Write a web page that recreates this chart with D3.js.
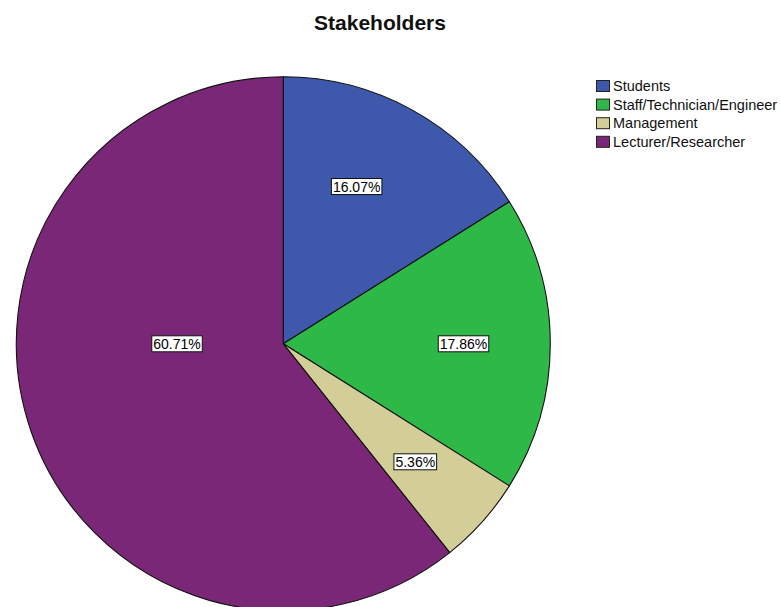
<!DOCTYPE html>
<html>
<head>
<meta charset="utf-8">
<script src="https://cdn.jsdelivr.net/npm/d3@7"></script>
<style>
  html, body { margin: 0; padding: 0; background: #fff; }
  svg { display: block; font-family: "Liberation Sans", Arial, sans-serif; }
</style>
</head>
<body>
<svg id="chart" width="781" height="607"></svg>
<script>
// Stakeholder groups and their share of respondents (percent)
const categories = ["Students", "Staff/Technician/Engineer", "Management", "Lecturer/Researcher"];
const shares = [16.07, 17.86, 5.36, 60.71];
const sliceColors = ["#3e58ac", "#2eb848", "#d3ce97", "#7b2777"];
const title = "Stakeholders";

const W = 781, H = 607;
const cx = 283.3, cy = 343.8, R = 267;

// label anchor in polar form: [angle in degrees from 12 o'clock, fraction of radius]
const labelPlacement = [[25, 0.65], [90, 0.675], [131.8, 0.663], [270, 0.398]];

const svg = d3.select("#chart");

svg.append("text")
  .attr("x", 380).attr("y", 30)
  .attr("text-anchor", "middle")
  .attr("font-size", 21).attr("font-weight", "bold")
  .attr("fill", "#111")
  .text(title);

const data = categories.map((c, i) => ({ name: c, value: shares[i], color: sliceColors[i], lp: labelPlacement[i] }));

const pie = d3.pie().value(d => d.value).sort(null);
const arc = d3.arc().innerRadius(0).outerRadius(R);

const g = svg.append("g").attr("transform", `translate(${cx},${cy})`);

g.selectAll("path.slice")
  .data(pie(data))
  .join("path")
  .attr("class", "slice")
  .attr("d", arc)
  .attr("fill", d => d.data.color)
  .attr("stroke", "#111")
  .attr("stroke-width", 1.1)
  .attr("stroke-linejoin", "round");

const fmt = v => v.toFixed(2) + "%";

const labels = g.selectAll("g.lbl")
  .data(pie(data))
  .join("g")
  .attr("class", "lbl")
  .attr("transform", d => {
    const [a, f] = d.data.lp;
    const p = d3.pointRadial(a * Math.PI / 180, f * R);
    return `translate(${p[0]},${p[1]})`;
  });

labels.each(function(d) {
  const sel = d3.select(this);
  const t = sel.append("text")
    .attr("text-anchor", "middle")
    .attr("dy", "0.36em")
    .attr("font-size", 14)
    .attr("fill", "#000")
    .text(fmt(d.data.value));
  const bb = t.node().getBBox();
  sel.insert("rect", "text")
    .attr("x", -bb.width / 2 - 1.5)
    .attr("y", -8)
    .attr("width", bb.width + 3)
    .attr("height", 16)
    .attr("fill", "#fff")
    .attr("stroke", "#111")
    .attr("stroke-width", 1);
});

// legend
const legend = svg.append("g").attr("transform", "translate(596,80)");
const rows = legend.selectAll("g.row")
  .data(data)
  .join("g")
  .attr("class", "row")
  .attr("transform", (d, i) => `translate(0,${i * 18.6})`);

rows.append("rect")
  .attr("x", 0.5).attr("y", 0.5)
  .attr("width", 13).attr("height", 11)
  .attr("fill", d => d.color)
  .attr("stroke", "#222")
  .attr("stroke-width", 1);

rows.append("text")
  .attr("x", 17).attr("y", 6)
  .attr("dy", "0.36em")
  .attr("font-size", 14.5)
  .attr("fill", "#111")
  .text(d => d.name);
</script>
</body>
</html>
